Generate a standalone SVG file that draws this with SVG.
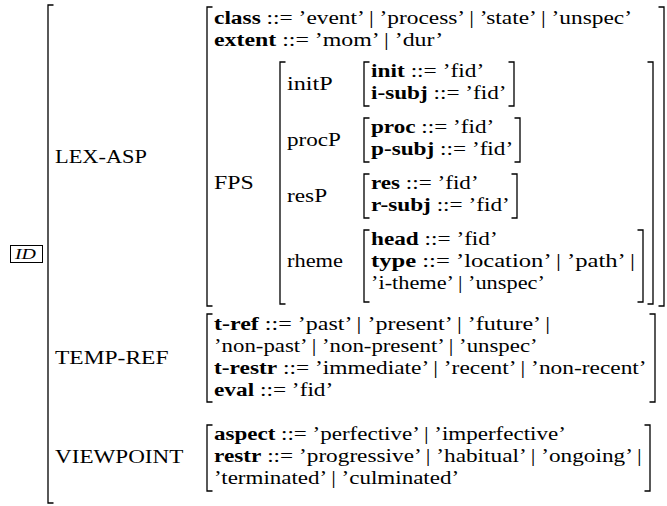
<svg xmlns="http://www.w3.org/2000/svg" width="667" height="506" viewBox="0 0 667 506">
<style>
.t{font-family:"Liberation Serif","Times New Roman",serif;font-size:18.5px;fill:#000}
.b{font-weight:bold}
.br{fill:none;stroke:#000;stroke-width:1.3}
.tag{fill:none;stroke:#000;stroke-width:1}
.it{font-family:"Liberation Serif","Times New Roman",serif;font-size:14px;font-style:italic;fill:#000}
</style>
<rect width="667" height="506" fill="#fff"/>

<g id="outer">
  <path class="br" d="M53.5,5 H48 V503 H53.5"/>
  <rect class="tag" x="10.5" y="245.5" width="32" height="17"/>
  <text class="it" x="15" y="259" textLength="21" lengthAdjust="spacingAndGlyphs">ID</text>
  <text class="t" x="55" y="163" textLength="91.9" lengthAdjust="spacingAndGlyphs">LEX-ASP</text>
  <text class="t" x="55" y="364" textLength="113.5" lengthAdjust="spacingAndGlyphs">TEMP-REF</text>
  <text class="t" x="55" y="463" textLength="128.4" lengthAdjust="spacingAndGlyphs">VIEWPOINT</text>
</g>

<g id="lex-asp">
  <path class="br" d="M212.5,7 H207 V306 H212.5"/>
  <path class="br" d="M658.5,7 H664 V306 H658.5"/>
  <text class="t" x="214" y="24" textLength="418" lengthAdjust="spacingAndGlyphs"><tspan class="b">class</tspan> ::= ’event’ | ’process’ | ’state’ | ’unspec’</text>
  <text class="t" x="214" y="46" textLength="229.3" lengthAdjust="spacingAndGlyphs"><tspan class="b">extent</tspan> ::= ’mom’ | ’dur’</text>
  <text class="t" x="214" y="189" textLength="39.7" lengthAdjust="spacingAndGlyphs">FPS</text>
</g>

<g id="fps">
  <path class="br" d="M285.5,62 H280 V304 H285.5"/>
  <path class="br" d="M647.5,62 H653 V304 H647.5"/>
  <text class="t" x="287" y="90" textLength="45.8" lengthAdjust="spacingAndGlyphs">initP</text>
  <text class="t" x="287" y="146" textLength="54" lengthAdjust="spacingAndGlyphs">procP</text>
  <text class="t" x="287" y="202" textLength="40.1" lengthAdjust="spacingAndGlyphs">resP</text>
  <text class="t" x="287" y="267" textLength="56" lengthAdjust="spacingAndGlyphs">rheme</text>
</g>

<g id="initP">
  <path class="br" d="M369.5,62 H364 V106 H369.5"/>
  <path class="br" d="M508.5,62 H514 V106 H508.5"/>
  <text class="t" x="371" y="77" textLength="113.2" lengthAdjust="spacingAndGlyphs"><tspan class="b">init</tspan> ::= ’fid’</text>
  <text class="t" x="371" y="99" textLength="135.5" lengthAdjust="spacingAndGlyphs"><tspan class="b">i-subj</tspan> ::= ’fid’</text>
</g>

<g id="procP">
  <path class="br" d="M369.5,118 H364 V162 H369.5"/>
  <path class="br" d="M514.5,118 H520 V162 H514.5"/>
  <text class="t" x="371" y="133" textLength="123.2" lengthAdjust="spacingAndGlyphs"><tspan class="b">proc</tspan> ::= ’fid’</text>
  <text class="t" x="371" y="155" textLength="142.2" lengthAdjust="spacingAndGlyphs"><tspan class="b">p-subj</tspan> ::= ’fid’</text>
</g>

<g id="resP">
  <path class="br" d="M369.5,174 H364 V218 H369.5"/>
  <path class="br" d="M511.5,174 H517 V218 H511.5"/>
  <text class="t" x="371" y="189" textLength="107.6" lengthAdjust="spacingAndGlyphs"><tspan class="b">res</tspan> ::= ’fid’</text>
  <text class="t" x="371" y="211" textLength="138.8" lengthAdjust="spacingAndGlyphs"><tspan class="b">r-subj</tspan> ::= ’fid’</text>
</g>

<g id="rheme">
  <path class="br" d="M369.5,230 H364 V302 H369.5"/>
  <path class="br" d="M637.5,230 H643 V302 H637.5"/>
  <text class="t" x="371" y="245" textLength="126.7" lengthAdjust="spacingAndGlyphs"><tspan class="b">head</tspan> ::= ’fid’</text>
  <text class="t" x="371" y="267" textLength="264" lengthAdjust="spacingAndGlyphs"><tspan class="b">type</tspan> ::= ’location’ | ’path’ |</text>
  <text class="t" x="371" y="289" textLength="173.9" lengthAdjust="spacingAndGlyphs">’i-theme’ | ’unspec’</text>
</g>

<g id="temp-ref">
  <path class="br" d="M212.5,314 H207 V402 H212.5"/>
  <path class="br" d="M649.5,314 H655 V402 H649.5"/>
  <text class="t" x="214" y="330" textLength="336.1" lengthAdjust="spacingAndGlyphs"><tspan class="b">t-ref</tspan> ::= ’past’ | ’present’ | ’future’ |</text>
  <text class="t" x="214" y="352" textLength="323.6" lengthAdjust="spacingAndGlyphs">’non-past’ | ’non-present’ | ’unspec’</text>
  <text class="t" x="214" y="374" textLength="432.6" lengthAdjust="spacingAndGlyphs"><tspan class="b">t-restr</tspan> ::= ’immediate’ | ’recent’ | ’non-recent’</text>
  <text class="t" x="214" y="396" textLength="119.3" lengthAdjust="spacingAndGlyphs"><tspan class="b">eval</tspan> ::= ’fid’</text>
</g>

<g id="viewpoint">
  <path class="br" d="M212.5,425 H207 V491 H212.5"/>
  <path class="br" d="M644.5,425 H650 V491 H644.5"/>
  <text class="t" x="214" y="440" textLength="351.8" lengthAdjust="spacingAndGlyphs"><tspan class="b">aspect</tspan> ::= ’perfective’ | ’imperfective’</text>
  <text class="t" x="214" y="462" textLength="427.7" lengthAdjust="spacingAndGlyphs"><tspan class="b">restr</tspan> ::= ’progressive’ | ’habitual’ | ’ongoing’ |</text>
  <text class="t" x="214" y="484" textLength="245.1" lengthAdjust="spacingAndGlyphs">’terminated’ | ’culminated’</text>
</g>

<g id="connectors"></g>
</svg>
